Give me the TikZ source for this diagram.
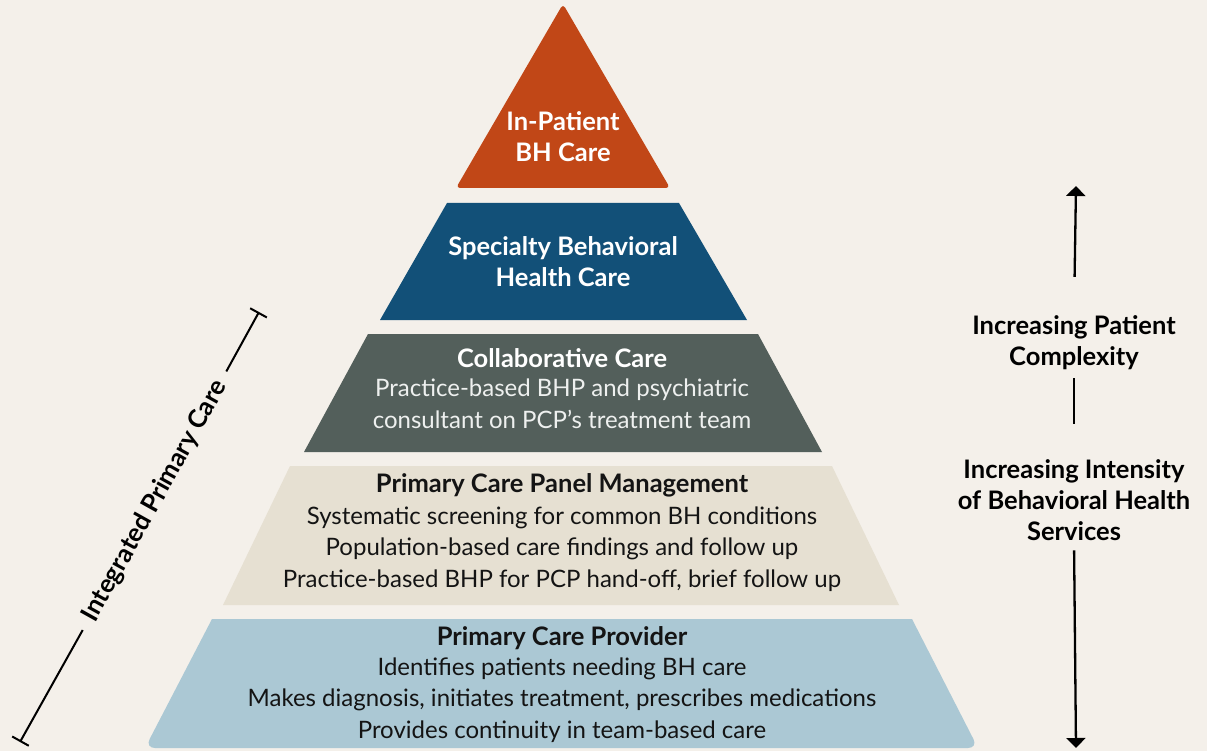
\documentclass[tikz,border=0pt]{standalone}
\usepackage{fontspec}
\setmainfont{Lato}
\usetikzlibrary{arrows.meta}

\definecolor{paper}{HTML}{F4F0EA}
\definecolor{inpat}{HTML}{C14717}
\definecolor{spec}{HTML}{125078}
\definecolor{collab}{HTML}{535F5B}
\definecolor{panel}{HTML}{E6E0D2}
\definecolor{pcp}{HTML}{ABC8D4}
\definecolor{ink}{HTML}{141414}
\definecolor{pale}{HTML}{EEF0EF}

% anchor=base puts the last line on the given baseline
\tikzset{
  txt/.style={font=\fontsize{24}{31.5}\selectfont, align=center, inner sep=0pt, anchor=base},
  hd/.style={txt, font=\fontsize{25.5}{31}\selectfont\bfseries},
  arr/.style={line width=2.3pt, -{Triangle[width=19pt,length=10pt]}},
  brk/.style={line width=2pt, -{Bar[width=19pt,line width=2pt]}},
}

\begin{document}
\begin{tikzpicture}[x=1pt,y=-1pt]
    \fill[paper] (0,0) rectangle (1207,751);
    \useasboundingbox (0,0) rectangle (1207,751);

    % pyramid tiers, top to bottom
    \fill[inpat, rounded corners=4pt] (563,4) -- (670,188) -- (456,188) -- cycle;
    \fill[spec] (447,203) -- (679,203) -- (747,320) -- (380,320) -- cycle;
    \fill[collab] (368,334) -- (758,334) -- (822,452) -- (304,452) -- cycle;
    \fill[panel] (290,466) -- (832,466) -- (899,605) -- (223,605) -- cycle;
    \fill[pcp] (212,619) [rounded corners=10pt] -- (145,748) -- (978,748) [sharp corners] -- (912,619) -- cycle;

    % tier labels
    \node[hd, white] (inpatHd) at (563,162) {In-Patient\\BH Care};
    \node[hd, white] (specHd) at (563,287) {Specialty Behavioral\\Health Care};
    \node[hd, white] (collabHd) at (562,367) {Collaborative Care};
    \node[txt, pale] (collabTx) at (562,428) {Practice-based BHP and psychiatric\\consultant on PCP’s treatment team};
    \node[hd, ink] (panelHd) at (562,492) {Primary Care Panel Management};
    \node[txt, ink] (panelTx) at (562,587) {Systematic screening for common BH conditions\\Population-based care findings and follow up\\Practice-based BHP for PCP hand-off, brief follow up};
    \node[hd, ink] (pcpHd) at (562,645) {Primary Care Provider};
    \node[txt, ink] (pcpTx) at (562,738) {Identifies patients needing BH care\\Makes diagnosis, initiates treatment, prescribes medications\\Provides continuity in team-based care};

    % right-hand scale
    \node[hd, black] (cplx) at (1074,365) {Increasing Patient\\Complexity};
    \node[hd, black] (inten) at (1074,540) {Increasing Intensity\\of Behavioral Health\\Services};
    \coordinate (upTip) at (1076,186);
    \coordinate (dnTip) at (1076,748);
    \draw[arr, shorten <=38pt] (cplx.north) -- (upTip);
    \draw[line width=2.3pt, shorten <=9pt, shorten >=35pt] (cplx.south) -- (inten.north);
    \draw[arr, shorten <=10pt] (inten.south) -- (dnTip);

    % bracket on the left
    \coordinate (ipcLo) at (20,742);
    \coordinate (ipcHi) at (259,312);
    \node[hd, black, anchor=center, rotate=60.9, inner xsep=12pt] (ipc) at (155,501) {Integrated Primary Care};
    \draw[brk] (ipc) -- (ipcHi);
    \draw[brk] (ipc) -- (ipcLo);
\end{tikzpicture}
\end{document}
